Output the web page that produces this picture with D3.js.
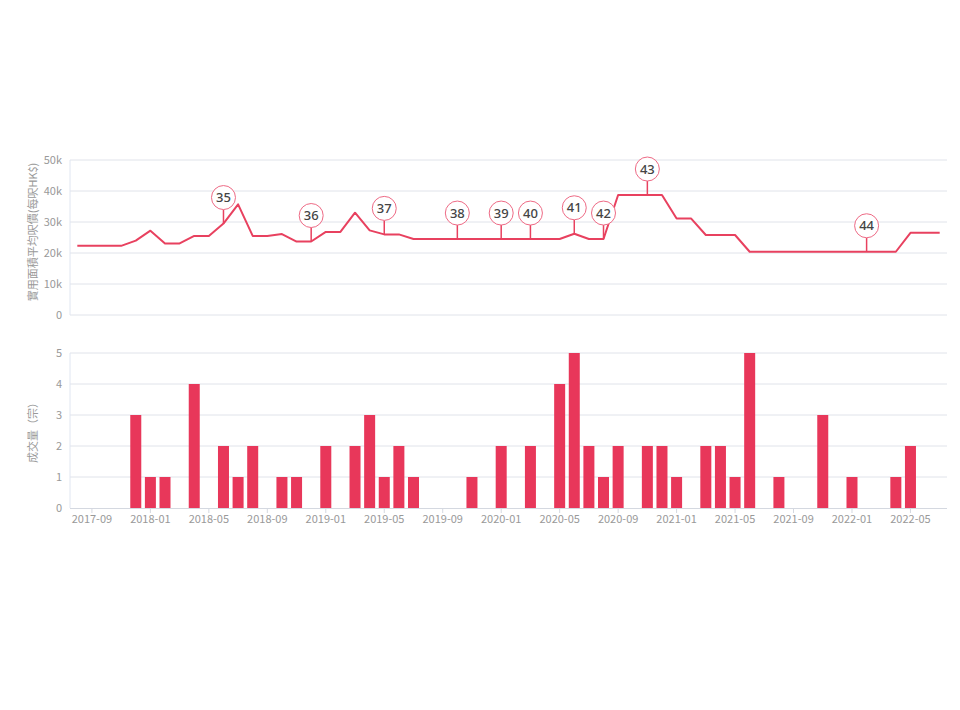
<!DOCTYPE html>
<html><head><meta charset="utf-8">
<script src="https://cdn.jsdelivr.net/npm/d3@7"></script>
<style>body{margin:0;background:#fff}svg{display:block}text{font-family:"Noto Sans CJK TC","Noto Sans",sans-serif}</style>
</head><body><svg id="c" width="960" height="710"></svg>
<script>
// months 2017-08 .. 2022-07
const months = [];
for (let y = 2017, m = 8; !(y === 2022 && m === 8); ) {
  months.push(y + "-" + String(m).padStart(2, "0"));
  m++; if (m > 12) { m = 1; y++; }
}
const priceValues = [
  22300,22300,22300,22300,24000,27200,23100,23100,25500,25500,
  29500,35700,25500,25500,26100,23700,23700,26800,26800,33000,
  27300,26000,26000,24500,24500,24500,24500,24500,24500,24500,
  24500,24500,24500,24500,26200,24500,24500,38700,38700,38700,
  38700,31100,31100,25800,25800,25800,20400,20400,20400,20400,
  20400,20400,20400,20400,20400,20400,20400,26500,26500,26500
];
const volumeValues = [
  0,0,0,0,3,1,1,0,4,0,
  2,1,2,0,1,1,0,2,0,2,
  3,1,2,1,0,0,0,1,0,2,
  0,2,0,4,5,2,1,2,0,2,
  2,1,0,2,2,1,5,0,1,0,
  0,3,0,1,0,0,1,2,0,0
];
const markerLabels = ["35","36","37","38","39","40","41","42","43","44"];
const markerMonths = ["2018-06","2018-12","2019-05","2019-10","2020-01","2020-03","2020-06","2020-08","2020-11","2022-02"];
const priceTicks = [0,10000,20000,30000,40000,50000];
const volumeTicks = [0,1,2,3,4,5];
const xTickMonths = ["2017-09","2018-01","2018-05","2018-09","2019-01","2019-05","2019-09","2020-01","2020-05","2020-09","2021-01","2021-05","2021-09","2022-01","2022-05"];

const svg = d3.select("#c");
const L = 70, R = 947;
const lineColor = "#e8415f", barColor = "#e8375a", gridColor = "#e0e3ea", labelColor = "#999";

const x = d3.scaleBand().domain(months).range([L, R]).padding(0);
const xc = m => x(m) + x.bandwidth() / 2;

// ---- top chart
const yP = d3.scaleLinear().domain([0, 50000]).range([315, 160]);
const gTop = svg.append("g");
gTop.selectAll("line.grid").data(priceTicks).join("line")
  .attr("x1", L).attr("x2", R).attr("y1", d => yP(d)).attr("y2", d => yP(d))
  .attr("stroke", gridColor).attr("stroke-width", 1);
gTop.append("line").attr("x1", L).attr("x2", L).attr("y1", 160).attr("y2", 315).attr("stroke", "#e0e6f1");
gTop.selectAll("text.tk").data(priceTicks).join("text")
  .attr("x", L - 8).attr("y", d => yP(d)).attr("dy", "0.35em").attr("text-anchor", "end")
  .attr("font-size", 11).attr("fill", labelColor)
  .text(d => d === 0 ? "0" : (d / 1000) + "k");
svg.append("text").attr("transform", "translate(37,232) rotate(-90)")
  .attr("text-anchor", "middle").attr("font-size", 11).attr("fill", labelColor)
  .text("實用面積平均呎價(每呎HK$)");

const line = d3.line().x((d, i) => xc(months[i])).y(d => yP(d));
gTop.append("path").datum(priceValues).attr("d", line)
  .attr("fill", "none").attr("stroke", lineColor).attr("stroke-width", 2).attr("stroke-linejoin", "round");

const markers = markerMonths.map((m, k) => ({ m, label: markerLabels[k], v: priceValues[months.indexOf(m)] }));
const mg = gTop.selectAll("g.mk").data(markers).join("g")
  .attr("transform", d => `translate(${xc(d.m)},${yP(d.v)})`);
mg.append("line").attr("x1", 0).attr("x2", 0).attr("y1", 0).attr("y2", -14)
  .attr("stroke", lineColor).attr("stroke-width", 1.5);
mg.append("circle").attr("cx", 0).attr("cy", -26).attr("r", 12)
  .attr("fill", "#fff").attr("stroke", "#ee6a85").attr("stroke-width", 1);
mg.append("text").attr("x", 0).attr("y", -26).attr("dy", "0.36em").attr("text-anchor", "middle")
  .attr("font-size", 13).attr("font-weight", 500).attr("fill", "#444")
  .style("font-family", "'Noto Sans',sans-serif")
  .text(d => d.label);

// ---- bottom chart
const yV = d3.scaleLinear().domain([0, 5]).range([508, 353]);
const gB = svg.append("g");
gB.selectAll("line.grid").data(volumeTicks.filter(d => d > 0)).join("line")
  .attr("x1", L).attr("x2", R).attr("y1", d => yV(d)).attr("y2", d => yV(d))
  .attr("stroke", gridColor);
gB.append("line").attr("x1", L).attr("x2", L).attr("y1", 353).attr("y2", 508).attr("stroke", "#e0e6f1");
gB.selectAll("text.tk").data(volumeTicks).join("text")
  .attr("x", L - 8).attr("y", d => yV(d)).attr("dy", "0.35em").attr("text-anchor", "end")
  .attr("font-size", 11).attr("fill", labelColor).text(d => d);
svg.append("text").attr("transform", "translate(37,430) rotate(-90)")
  .attr("text-anchor", "middle").attr("font-size", 11).attr("fill", labelColor)
  .text("成交量（宗）");

const bw = 11;
gB.selectAll("rect").data(months.map((m, i) => ({ m, v: volumeValues[i] })).filter(d => d.v > 0)).join("rect")
  .attr("x", d => xc(d.m) - bw / 2).attr("width", bw)
  .attr("y", d => yV(d.v)).attr("height", d => yV(0) - yV(d.v))
  .attr("fill", barColor);

// x axis
gB.append("line").attr("x1", L).attr("x2", R).attr("y1", 508.5).attr("y2", 508.5).attr("stroke", "#d4d8e0");
gB.selectAll("line.xt").data(xTickMonths).join("line")
  .attr("x1", d => xc(d)).attr("x2", d => xc(d)).attr("y1", 508).attr("y2", 513)
  .attr("stroke", "#d4d8e0");
gB.selectAll("text.xl").data(xTickMonths).join("text")
  .attr("x", d => xc(d)).attr("y", 523).attr("text-anchor", "middle")
  .attr("font-size", 11).attr("fill", labelColor).text(d => d);
</script></body></html>
